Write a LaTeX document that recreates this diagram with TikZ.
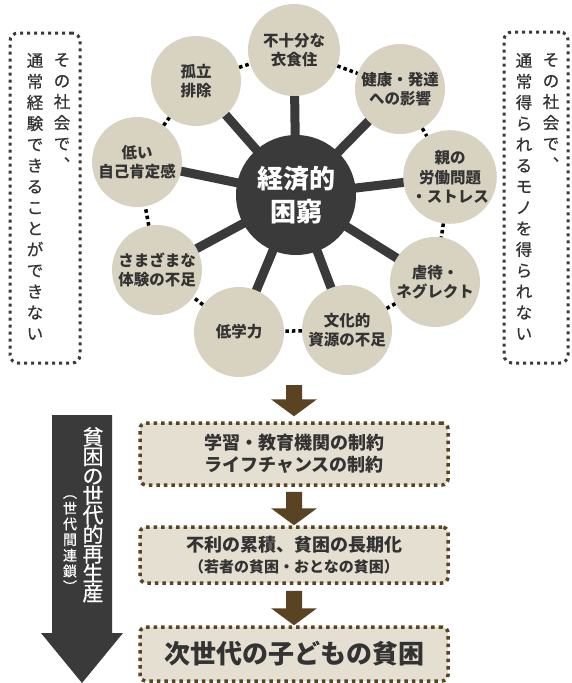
\documentclass[tikz,border=0pt]{standalone}
\usepackage{fontspec}
\setmainfont{Noto Sans CJK JP}
\newfontfamily\medfont[FakeBold=0.6]{Noto Sans CJK JP}
\usetikzlibrary{calc,backgrounds}
\definecolor{beige}{HTML}{D8D3C1}
\definecolor{boxfill}{HTML}{E4DFD1}
\definecolor{hubc}{HTML}{3A3A3A}
\definecolor{brownc}{HTML}{5A4322}
\definecolor{txt}{HTML}{333333}
\newcommand\flowarr[2]{%
  \fill[brownc] ($(#1)+(-8,0)$) -- ($(#1)+(8,0)$) -- ($(#2)+(8,-17)$) -- ($(#2)+(23,-17)$) -- (#2)
    -- ($(#2)+(-23,-17)$) -- ($(#2)+(-8,-17)$) -- cycle;}
\begin{document}
\begin{tikzpicture}[x=1pt,y=-1pt,
  sat/.style={circle, fill=beige, inner sep=0pt, minimum size=90pt, align=center, text=txt,
    font=\bfseries\fontsize{15.5}{19.5}\selectfont},
  hub/.style={circle, fill=hubc, minimum size=120pt, inner sep=0pt, align=center, text=white,
    font=\bfseries\fontsize{26}{33}\selectfont},
  spoke/.style={line width=9pt, draw=hubc},
  ring/.style={line width=3.5pt, dash pattern=on 3.5pt off 3pt, draw=black},
  sidebox/.style={draw=hubc, line width=3pt, dash pattern=on 3pt off 4pt, rounded corners=8pt, fill=white},
  flowbox/.style={draw=brownc, line width=3.5pt, dash pattern=on 3.5pt off 4pt, rounded corners=6pt,
    fill=boxfill, minimum width=308pt, align=center, text=txt, inner sep=0pt},
  vtext/.style={align=center, anchor=north, inner sep=0pt, font=\medfont\fontsize{16.5}{21}\selectfont, text=txt},
]
\useasboundingbox (0,0) rectangle (572,683);

% side boxes
\node[sidebox, minimum width=70pt, minimum height=330pt] (lbox) at (45,198) {};
\node[sidebox, minimum width=64pt, minimum height=331pt] (rbox) at (536,197.5) {};
\node[vtext] (l1) at (62,53) {そ\\の\\社\\会\\で\\︑};
\node[vtext] (l2) at (35,53) {通\\常\\経\\験\\で\\き\\る\\こ\\と\\が\\で\\き\\な\\い};
\node[vtext] (r1) at (551,53) {そ\\の\\社\\会\\で\\︑};
\node[vtext] (r2) at (524,53) {通\\常\\得\\ら\\れ\\る\\モ\\ノ\\を\\得\\ら\\れ\\な\\い};

% hub and satellites
\node[hub] (hub) at (296,195) {経済的\\困窮};
\node[sat, minimum size=92pt] (s1) at (294,50) {不十分な\\衣食住};
\node[sat] (s2) at (400,89) {健康・発達\\への影響};
\node[sat] (s3) at (450,177) {親の\\労働問題\\・ストレス};
\node[sat] (s4) at (435,282) {虐待・\\ネグレクト};
\node[sat] (s5) at (347,330) {文化的\\資源の不足};
\node[sat] (s6) at (239,332) {低学力};
\node[sat] (s7) at (157,270) {さまざまな\\体験の不足};
\node[sat] (s8) at (137,162) {低い\\自己肯定感};
\node[sat] (s9) at (196,81) {孤立\\排除};

\begin{pgfonlayer}{background}
  \fill[white] (0,0) rectangle (572,683);
  \foreach \s in {s1,s2,s3,s4,s5,s6,s7,s8,s9}
    \draw[spoke] (hub.center) -- (\s.center);
\end{pgfonlayer}

\draw[ring] (s9) -- (s1);
\draw[ring] (s1) -- (s2);
\draw[ring] (s2) -- (s3);
\draw[ring] (s3) -- (s4);
\draw[ring] (s4) -- (s5);
\draw[ring] (s5) -- (s6);
\draw[ring] (s6) -- (s7);
\draw[ring] (s7) -- (s8);
\draw[ring] (s8) -- (s9);

% flow boxes
\node[flowbox, minimum height=62pt, font=\bfseries\fontsize{18}{22}\selectfont] (b1) at (294,454)
  {学習・教育機関の制約\\ライフチャンスの制約};
\node[flowbox, minimum height=56pt, font=\bfseries\fontsize{18}{21}\selectfont] (b2) at (294,555)
  {不利の累積、貧困の長期化\\{\fontsize{15}{21}\selectfont （若者の貧困・おとなの貧困）}};
\node[flowbox, minimum height=54pt, font=\bfseries\fontsize{26}{30}\selectfont] (b3) at (294,654)
  {次世代の子どもの貧困};

\coordinate (a1top) at (294,385);
\coordinate (a1tip) at ($(b1.north)+(0,-5)$);
\coordinate (a2top) at ($(b1.south)+(0,5)$);
\coordinate (a3top) at ($(b2.south)+(0,6)$);
\flowarr{a1top}{a1tip}
\flowarr{a2top}{b2.north}
\flowarr{a3top}{b3.north}

% big left arrow
\fill[hubc] (52,415) -- (112,415) -- (112,633) -- (123,633) -- (82,683) -- (41,633) -- (52,633) -- cycle;
\node[vtext, text=white, font=\medfont\fontsize{21}{19.5}\selectfont] (big) at (93,427)
  {貧\\困\\の\\世\\代\\的\\再\\生\\産};
\node[vtext, text=white, font=\medfont\fontsize{14}{15.7}\selectfont] (sub) at (70,495)
  {︵\\世\\代\\間\\連\\鎖\\︶};
\end{tikzpicture}
\end{document}
